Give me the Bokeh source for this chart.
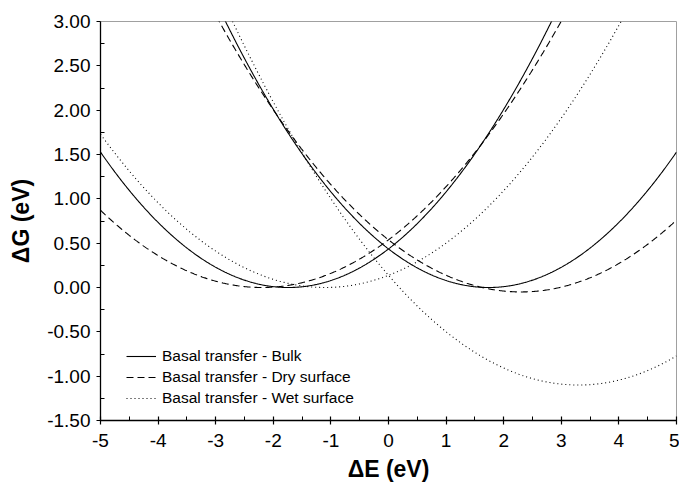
import numpy as np
from bokeh.plotting import figure
from bokeh.models import Legend, LegendItem, FixedTicker
from bokeh.embed import file_html
from bokeh.resources import INLINE

# --- data (Marcus parabolas) ---
series_labels = ["Basal transfer - Bulk",
                 "Basal transfer - Dry surface",
                 "Basal transfer - Wet surface"]
reorg_energy = [1.74, 2.25, 2.20]        # lambda (eV)
reaction_dG = [0.00, -0.05, -1.10]       # driving force dG0 (eV)
dashes = ["solid", "7 4", "1 3"]
x_limits = [-5.0, 5.0]
y_limits = [-1.5, 3.0]
x_ticks = [-5, -4, -3, -2, -1, 0, 1, 2, 3, 4, 5]
x_tick_labels = ["-5", "-4", "-3", "-2", "-1", "0", "1", "2", "3", "4", "5"]
x_minor = [-4.5, -3.5, -2.5, -1.5, -0.5, 0.5, 1.5, 2.5, 3.5, 4.5]
y_ticks = [-1.5, -1.0, -0.5, 0.0, 0.5, 1.0, 1.5, 2.0, 2.5, 3.0]
y_tick_labels = ["-1.50", "-1.00", "-0.50", "0.00", "0.50", "1.00", "1.50", "2.00", "2.50", "3.00"]
y_minor = [-1.25, -0.75, -0.25, 0.25, 0.75, 1.25, 1.75, 2.25, 2.75]

FONT = "Liberation Sans"

p = figure(frame_width=576, frame_height=399,
           min_border_left=100, min_border_right=3, min_border_top=21, min_border_bottom=62,
           x_range=(x_limits[0], x_limits[1]), y_range=(y_limits[0], y_limits[1]),
           output_backend="svg", toolbar_location=None)
p.background_fill_color = "white"
p.border_fill_color = "white"
p.outline_line_color = "#a0a0a0"
p.outline_line_width = 1
p.xgrid.visible = False
p.ygrid.visible = False

x = np.linspace(x_limits[0], x_limits[1], 801)
legend_items = []
for lab, lam, g0, dash in zip(series_labels, reorg_energy, reaction_dG, dashes):
    g_react = (x + lam + g0) ** 2 / (4 * lam)
    g_prod = (x - lam + g0) ** 2 / (4 * lam) + g0
    r1 = p.line(x, g_react, line_color="black", line_width=1.1, line_dash=dash)
    p.line(x, g_prod, line_color="black", line_width=1.1, line_dash=dash)
    legend_items.append(LegendItem(label=lab, renderers=[r1]))

legend = Legend(items=legend_items, location=(26, 12))
legend.background_fill_alpha = 0
legend.border_line_alpha = 0
legend.padding = 0
legend.margin = 0
legend.spacing = 1
legend.glyph_width = 30
legend.glyph_height = 20
legend.label_height = 20
legend.label_standoff = 6
legend.label_text_font = FONT
legend.label_text_font_size = "15.5px"
legend.label_text_color = "black"
p.add_layout(legend, "center")

p.xaxis.ticker = FixedTicker(ticks=x_ticks, minor_ticks=x_minor)
p.yaxis.ticker = FixedTicker(ticks=y_ticks, minor_ticks=y_minor)
p.xaxis.major_label_overrides = {t: s for t, s in zip(x_ticks, x_tick_labels)}
p.yaxis.major_label_overrides = {t: s for t, s in zip(y_ticks, y_tick_labels)}
p.xaxis.axis_label = "ΔE (eV)"
p.yaxis.axis_label = "ΔG (eV)"

for ax in (p.xaxis[0], p.yaxis[0]):
    ax.axis_line_color = "black"
    ax.axis_line_width = 1.3
    ax.major_tick_line_color = "black"
    ax.minor_tick_line_color = "black"
    ax.major_tick_line_width = 1.2
    ax.minor_tick_line_width = 1.0
    ax.major_tick_out = 4
    ax.minor_tick_in = 4
    ax.minor_tick_out = 0
    ax.major_label_text_font = FONT
    ax.major_label_text_font_size = "19px"
    ax.major_label_text_color = "black"
    ax.axis_label_text_font = FONT
    ax.axis_label_text_font_size = "23px"
    ax.axis_label_text_font_style = "bold"
    ax.axis_label_text_color = "black"

p.xaxis.major_tick_in = 4
p.yaxis.major_tick_in = 0
p.xaxis.major_label_standoff = 9
p.yaxis.major_label_standoff = 6
p.xaxis.axis_label_standoff = 6
p.yaxis.axis_label_standoff = 10

open("out.html", "w").write(file_html(p, INLINE))
